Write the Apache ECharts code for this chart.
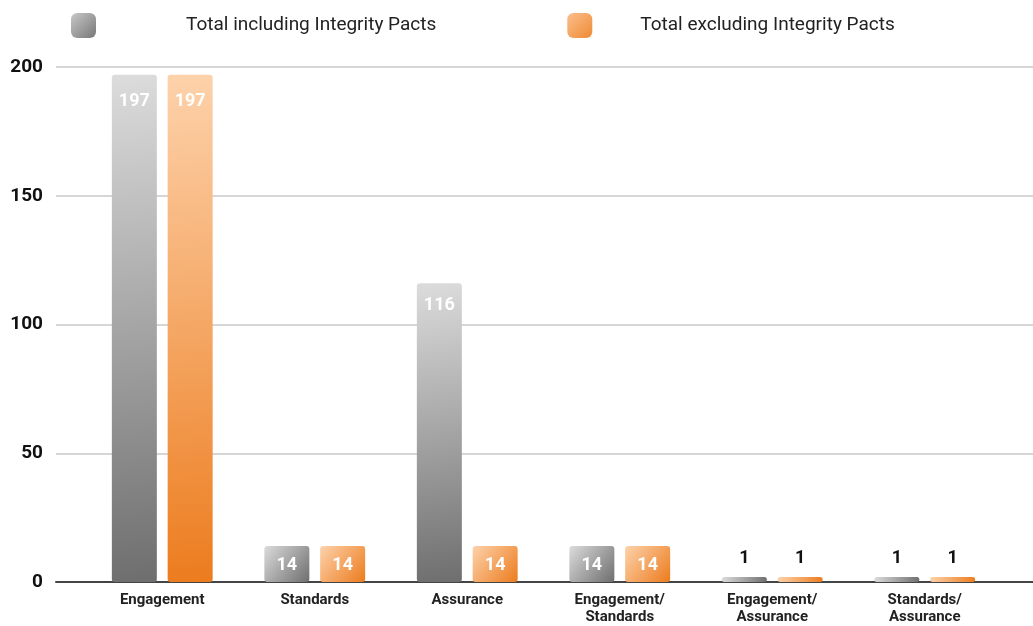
<!DOCTYPE html>
<html><head><meta charset="utf-8">
<script src="https://cdn.jsdelivr.net/npm/echarts@6/dist/echarts.min.js"></script>
<style>html,body{margin:0;padding:0;background:#fff}#c{width:1033px;height:626px}</style>
</head><body><div id="c"></div>
<script>
const categories = ['Engagement', 'Standards', 'Assurance', 'Engagement/\nStandards', 'Engagement/\nAssurance', 'Standards/\nAssurance'];
const seriesNames = ['Total including Integrity Pacts', 'Total excluding Integrity Pacts'];
const inclValues = [197, 14, 116, 14, 1, 1];
const exclValues = [197, 14, 14, 14, 1, 1];
const yTicks = [0, 50, 100, 150, 200];

const font = 'Roboto';
function grad(light, dark) {
  return new echarts.graphic.LinearGradient(0, 0, 1, 1, [
    { offset: 0, color: light }, { offset: 1, color: dark }
  ]);
}
const grayFill = grad('#dcdcdc', '#6e6e6e');
const orangeFill = grad('#fdd2ab', '#ec7c1e');

function mkData(values) {
  return values.map(v => {
    if (v <= 3) {
      return { value: v, label: { position: 'top', distance: 10, color: '#111' } };
    }
    return { value: v, label: { position: 'insideTop', distance: v < 30 ? 11 : (v > 150 ? 18 : 13), color: '#fff' } };
  });
}

const chart = echarts.init(document.getElementById('c'));
chart.setOption({
  animation: false,
  legend: {
    top: 8, left: 66,
    itemWidth: 25, itemHeight: 25, itemGap: 131,
    icon: 'roundRect',
    data: [
      { name: seriesNames[0], itemStyle: { color: grad('#c8c8c8', '#777') },
        textStyle: { padding: [0, 0, 0, 85] } },
      { name: seriesNames[1], itemStyle: { color: grad('#fcbf8c', '#ee8a35') },
        textStyle: { padding: [0, 0, 0, 43] } }
    ],
    textStyle: { fontFamily: font, fontSize: 19, color: '#222' }
  },
  grid: [
    { left: 56, right: 0, top: 67, bottom: 44 },
    { left: 86, right: 32, top: 67, bottom: 44 }
  ],
  xAxis: [
    { type: 'category', gridIndex: 0, data: [''], axisTick: { show: false }, axisLabel: { show: false },
      axisLine: { lineStyle: { color: '#444', width: 2 } } },
    { type: 'category', gridIndex: 1, data: categories, axisTick: { show: false },
      axisLine: { show: false },
      axisLabel: { fontFamily: font, fontWeight: 'bold', fontSize: 15, color: '#222', margin: 10, lineHeight: 17, interval: 0 } }
  ],
  yAxis: [
    { type: 'value', gridIndex: 0, min: 0, max: 200, interval: 50,
      axisLine: { show: false }, axisTick: { show: false },
      splitLine: { lineStyle: { color: '#c8c8c8', width: 1.5 } },
      axisLabel: { fontFamily: font, fontWeight: 'bold', fontSize: 19, color: '#111', margin: 13,
        formatter: v => yTicks.includes(v) ? String(v) : '' } },
    { type: 'value', gridIndex: 1, min: 0, max: 200, interval: 50, show: false }
  ],
  series: [
    { name: seriesNames[0], type: 'bar', xAxisIndex: 1, yAxisIndex: 1, barWidth: 45, barGap: '24%', barMinHeight: 5,
      data: mkData(inclValues),
      itemStyle: { color: grayFill, borderRadius: 3 },
      label: { show: true, fontFamily: font, fontWeight: 'bold', fontSize: 18 } },
    { name: seriesNames[1], type: 'bar', xAxisIndex: 1, yAxisIndex: 1, barWidth: 45, barGap: '24%', barMinHeight: 5,
      data: mkData(exclValues),
      itemStyle: { color: orangeFill, borderRadius: 3 },
      label: { show: true, fontFamily: font, fontWeight: 'bold', fontSize: 18 } }
  ]
});
</script></body></html>
